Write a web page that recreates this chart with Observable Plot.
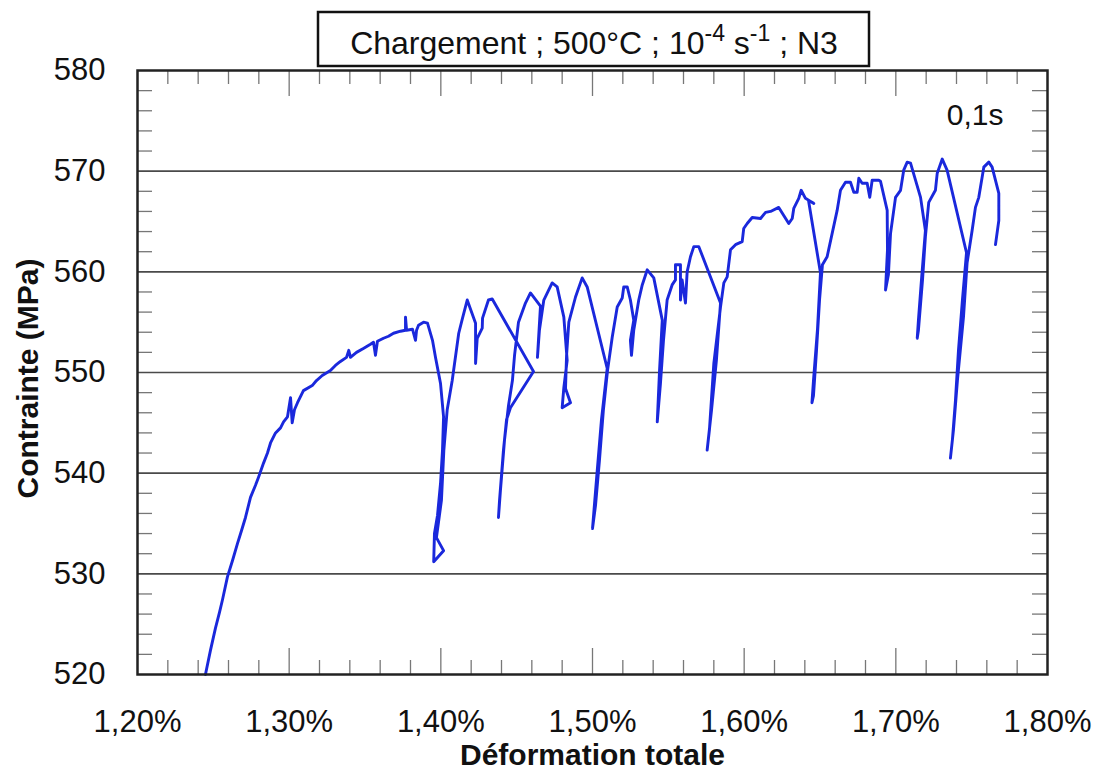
<!DOCTYPE html>
<html><head><meta charset="utf-8">
<script src="https://cdn.jsdelivr.net/npm/d3@7"></script>
<script src="https://cdn.jsdelivr.net/npm/@observablehq/plot@0.6"></script>
<style>body{margin:0;background:#fff;} svg{display:block}</style>
</head><body><div id="chart"></div>
<script>
// Data: total strain (%) and stress (MPa)
const strain = [
1.2448,1.2481,1.2514,1.2541,1.2560,1.2593,1.2626,1.2659,1.2686,1.2712,
1.2745,1.2778,1.2798,1.2831,1.2857,1.2877,1.2910,1.2943,1.2963,1.2989,
1.3009,1.3020,1.3035,1.3055,1.3094,1.3152,1.3180,1.3218,1.3272,1.3305,
1.3338,1.3378,1.3393,1.3404,1.3444,1.3492,1.3536,1.3556,1.3569,1.3582,
1.3622,1.3655,1.3688,1.3734,1.3767,1.3767,1.3774,1.3813,1.3833,1.3840,
1.3853,1.3886,1.3912,1.3945,1.3965,1.3998,1.4018,1.4011,1.3998,1.3978,
1.3958,1.3953,1.4018,1.3971,1.4004,1.4020,1.4042,1.4075,1.4118,1.4143,
1.4174,1.4229,1.4229,1.4240,1.4273,1.4275,1.4314,1.4339,1.4611,1.4459,
1.4433,1.4413,1.4387,1.4380,1.4393,1.4420,1.4446,1.4472,1.4486,1.4512,
1.4558,1.4591,1.4657,1.4637,1.4650,1.4679,1.4734,1.4767,1.4811,1.4833,
1.4811,1.4800,1.4855,1.4822,1.4829,1.4844,1.4888,1.4932,1.4965,1.5097,
1.5059,1.5026,1.5000,1.5020,1.5046,1.5072,1.5099,1.5130,1.5163,1.5196,
1.5206,1.5229,1.5250,1.5272,1.5250,1.5257,1.5272,1.5305,1.5328,1.5361,
1.5404,1.5460,1.5442,1.5427,1.5448,1.5468,1.5492,1.5525,1.5547,1.5547,
1.5580,1.5580,1.5591,1.5613,1.5624,1.5646,1.5668,1.5701,1.5844,1.5817,
1.5785,1.5756,1.5771,1.5800,1.5844,1.5866,1.5888,1.5910,1.5943,1.5987,
1.5997,1.6020,1.6053,1.6108,1.6141,1.6174,1.6228,1.6261,1.6294,1.6317,
1.6327,1.6360,1.6376,1.6404,1.6459,1.6424,1.6503,1.6483,1.6457,1.6447,
1.6457,1.6477,1.6497,1.6516,1.6547,1.6613,1.6635,1.6668,1.6701,1.6723,
1.6745,1.6756,1.6778,1.6811,1.6828,1.6844,1.6888,1.6899,1.6943,1.6945,
1.6932,1.6951,1.6965,1.6998,1.7031,1.7052,1.7075,1.7097,1.7163,1.7195,
1.7169,1.7149,1.7141,1.7149,1.7176,1.7195,1.7217,1.7250,1.7261,1.7273,
1.7306,1.7338,1.7466,1.7439,1.7413,1.7393,1.7373,1.7360,1.7380,1.7406,
1.7446,1.7470,1.7503,1.7525,1.7547,1.7580,1.7613,1.7635,1.7679,1.7679,
1.7657
];
const stress = [
520.0,522.4,524.6,526.2,527.4,529.7,531.3,533.0,534.3,535.6,
537.6,538.8,539.6,541.0,542.0,543.0,544.0,544.5,545.1,545.6,
547.5,545.0,546.3,547.0,548.2,548.7,549.2,549.7,550.2,550.7,
551.1,551.5,552.2,551.5,552.0,552.4,552.8,553.0,551.7,553.1,
553.4,553.6,553.9,554.1,554.2,555.5,554.2,554.3,553.2,554.2,
554.7,555.0,554.9,553.2,551.5,548.9,545.6,542.3,539.0,535.8,
534.0,531.2,532.3,533.6,537.3,542.3,546.3,549.2,553.9,555.4,
557.2,554.9,550.9,553.4,554.4,555.4,557.2,557.3,550.1,546.5,
545.3,542.3,537.3,535.6,538.3,543.3,546.7,549.2,551.7,555.0,
556.9,557.9,556.6,551.5,554.2,557.2,558.9,558.5,555.5,551.2,
548.5,546.5,547.0,548.4,551.7,555.0,557.5,559.4,558.5,550.4,
545.3,539.3,534.5,536.8,541.3,546.3,550.2,553.5,556.5,557.4,
558.5,558.5,557.2,555.2,553.2,551.7,554.2,557.2,558.7,560.2,
559.4,555.2,550.2,545.1,548.9,553.2,557.2,558.7,559.2,560.7,
560.7,557.2,559.2,556.9,560.0,561.5,562.5,562.5,556.9,551.2,
546.3,542.3,544.3,550.9,556.5,558.9,559.5,562.2,562.7,563.0,
564.3,564.8,565.4,565.3,565.9,566.0,566.4,565.6,564.8,565.3,
566.3,567.3,568.1,567.3,566.8,567.1,559.9,554.2,549.2,547.0,
547.7,552.2,557.2,560.7,561.5,566.1,568.1,568.9,568.9,567.9,
567.9,569.3,568.8,568.8,567.4,569.1,569.1,569.0,566.1,562.2,
558.2,559.7,563.8,567.4,568.1,570.1,570.9,570.8,567.4,564.1,
559.2,555.2,553.4,554.2,559.2,563.5,566.9,567.8,568.1,569.8,
571.2,570.1,561.9,557.2,552.2,547.2,543.3,541.5,544.3,549.2,
555.5,560.9,564.1,566.4,567.4,570.4,570.9,570.4,567.8,565.1,
562.7
];
const xTicks = [1.2, 1.3, 1.4, 1.5, 1.6, 1.7, 1.8];
const yTicks = [520, 530, 540, 550, 560, 570, 580];
const gridY = [530, 540, 550, 560, 570];
const xMajorInner = [1.3, 1.4, 1.5, 1.6, 1.7];
const xLabel = "Déformation totale";
const yLabel = "Contrainte (MPa)";
const note = "0,1s";
const titleParts = ["Chargement ; 500°C ; 10", "-4", " s", "-1", " ; N3"];

const data = strain.map((x, i) => ({x, y: stress[i]}));
const W = 1096, H = 771, mL = 137, mR = 49, mT = 70, mB = 97;
const innerH = H - mT - mB, innerW = W - mL - mR;
const font = "'Liberation Sans', Arial, Helvetica, sans-serif";
const minorX = d3.range(1, 30).filter(i => i % 5).map(i => +(1.2 + i * 0.02).toFixed(2));
const minorY = d3.range(1, 30).filter(i => i % 5).map(i => 520 + i * 2);
const fmtX = d => d.toFixed(2).replace(".", ",") + "%";
const tickStyle = {stroke: "#777", strokeWidth: 1.3};

const plot = Plot.plot({
  width: W, height: H,
  marginLeft: mL, marginRight: mR, marginTop: mT, marginBottom: mB,
  style: {fontFamily: font, background: "#fff", color: "#111"},
  x: {domain: [1.2, 1.8]},
  y: {domain: [520, 580]},
  marks: [
    Plot.ruleY(gridY, {stroke: "#4a4a4a", strokeWidth: 1.6}),
    Plot.tickX(minorX, {x: d => d, insetTop: innerH - 14, ...tickStyle}),
    Plot.tickX(minorX, {x: d => d, insetBottom: innerH - 14, ...tickStyle}),
    Plot.tickX(xMajorInner, {x: d => d, insetTop: innerH - 26, ...tickStyle}),
    Plot.tickX(xMajorInner, {x: d => d, insetBottom: innerH - 26, ...tickStyle}),
    Plot.tickY(minorY, {y: d => d, insetRight: innerW - 15, ...tickStyle}),
    Plot.tickY(minorY, {y: d => d, insetLeft: innerW - 15, ...tickStyle}),
    Plot.line(data, {x: "x", y: "y", stroke: "#1a28dc", strokeWidth: 2.9, strokeLinejoin: "round", strokeLinecap: "round"}),
    Plot.frame({stroke: "#222", strokeWidth: 2.5}),
    Plot.axisX(xTicks, {tickSize: 0, tickPadding: 35, tickFormat: fmtX, fontSize: 31, label: null}),
    Plot.axisY(yTicks, {tickSize: 0, tickPadding: 32, fontSize: 31, label: null}),
    Plot.text([xLabel], {frameAnchor: "bottom", dy: 81, textAnchor: "middle", lineAnchor: "middle", fontWeight: "bold", fontSize: 30, fill: "#111"}),
    Plot.text([yLabel], {frameAnchor: "left", dx: -109, dy: 6, rotate: -90, textAnchor: "middle", lineAnchor: "middle", fontWeight: "bold", fontSize: 30, fill: "#111"}),
    Plot.text([note], {frameAnchor: "top-right", dx: -44, dy: 45, textAnchor: "end", lineAnchor: "middle", fontSize: 30, fill: "#111"})
  ]
});

// Title box above the frame
const svg = d3.select(plot);
const g = svg.append("g");
g.append("rect").attr("x", 318).attr("y", 12).attr("width", 551).attr("height", 54)
  .attr("fill", "#fff").attr("stroke", "#111").attr("stroke-width", 2.5);
const t = g.append("text").attr("x", 594).attr("y", 54).attr("text-anchor", "middle")
  .attr("fill", "#111").style("font-size", "32px").style("font-family", font);
t.append("tspan").text(titleParts[0]);
t.append("tspan").attr("dy", -13).style("font-size", "23px").text(titleParts[1]);
t.append("tspan").attr("dy", 13).text(titleParts[2]);
t.append("tspan").attr("dy", -13).style("font-size", "23px").text(titleParts[3]);
t.append("tspan").attr("dy", 13).text(titleParts[4]);

document.getElementById("chart").appendChild(plot);
</script>
</body></html>
